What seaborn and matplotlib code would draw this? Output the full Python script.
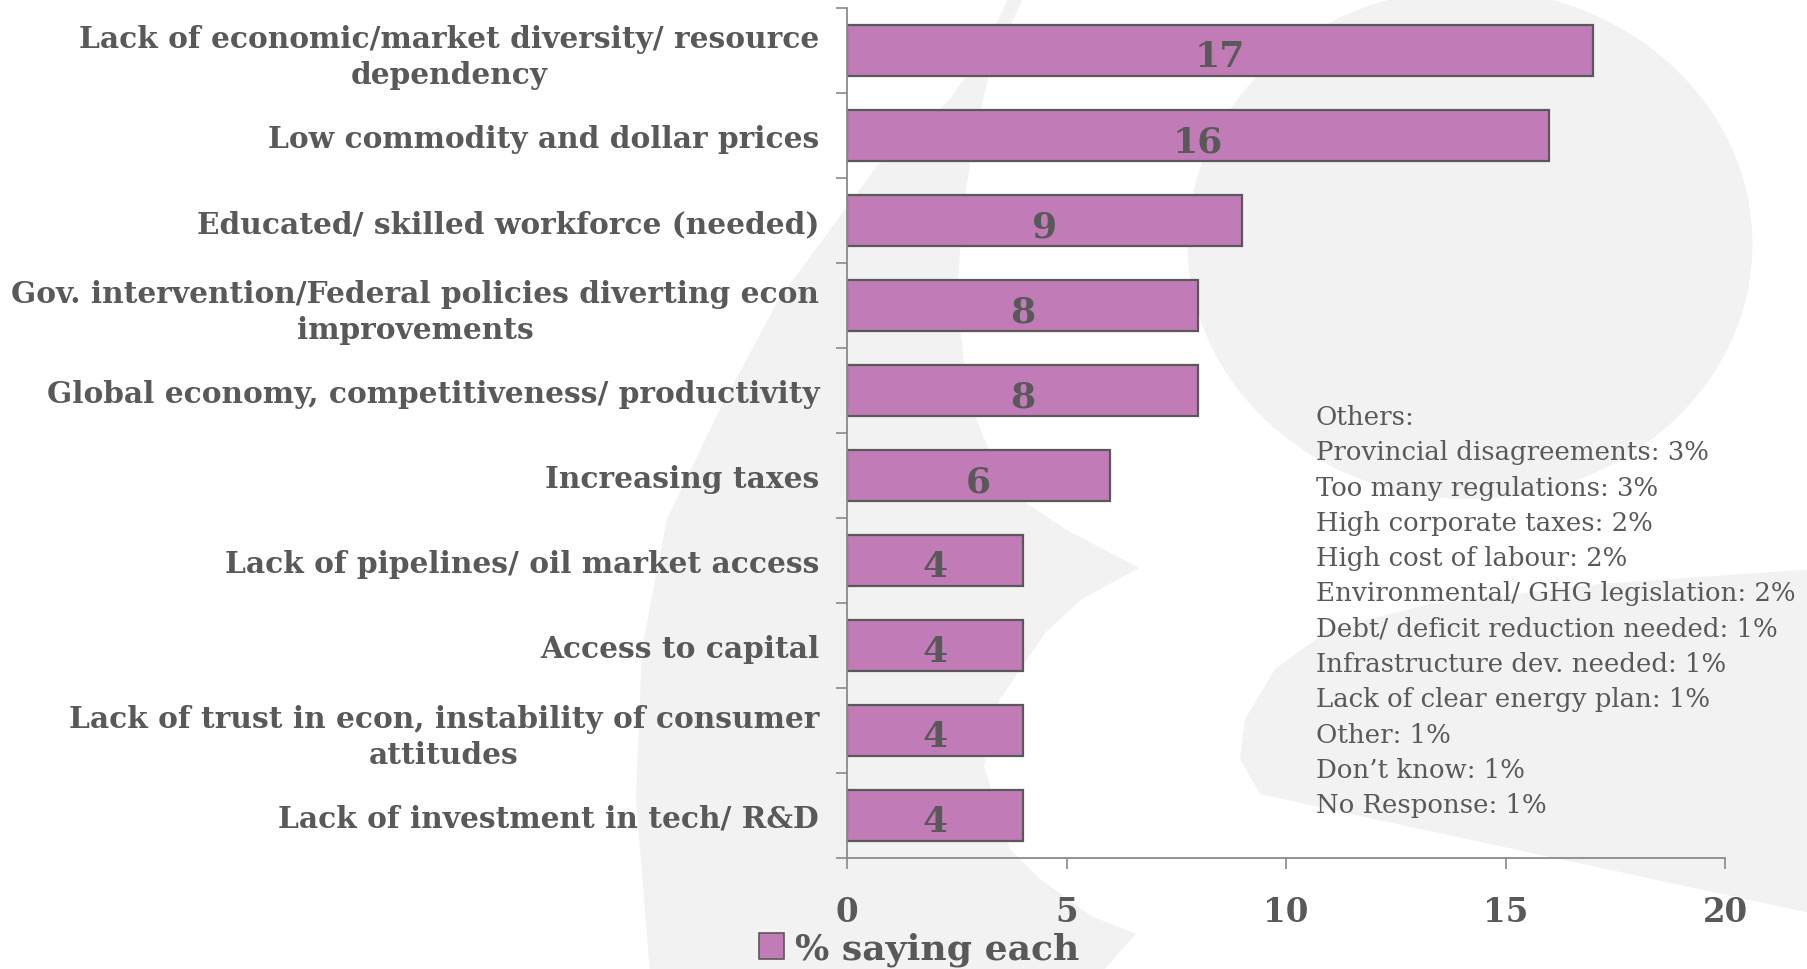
import numpy as np
import pandas as pd
import seaborn as sns
import matplotlib.pyplot as plt
from matplotlib.patches import Polygon, Ellipse, Patch

# ---- data -------------------------------------------------------------
categories = [
    "Lack of economic/market diversity/ resource\ndependency",
    "Low commodity and dollar prices",
    "Educated/ skilled workforce (needed)",
    "Gov. intervention/Federal policies diverting econ\nimprovements",
    "Global economy, competitiveness/ productivity",
    "Increasing taxes",
    "Lack of pipelines/ oil market access",
    "Access to capital",
    "Lack of trust in econ, instability of consumer\nattitudes",
    "Lack of investment in tech/ R&D",
]
values = [17, 16, 9, 8, 8, 6, 4, 4, 4, 4]

others_lines = [
    "Others:",
    "Provincial disagreements: 3%",
    "Too many regulations: 3%",
    "High corporate taxes: 2%",
    "High cost of labour: 2%",
    "Environmental/ GHG legislation: 2%",
    "Debt/ deficit reduction needed: 1%",
    "Infrastructure dev. needed: 1%",
    "Lack of clear energy plan: 1%",
    "Other: 1%",
    "Don\u2019t know: 1%",
    "No Response: 1%",
]
x_ticks = [0, 5, 10, 15, 20]
series_name = "% saying each"

# ---- style ------------------------------------------------------------
sns.set_theme(style="white")
plt.rcParams["font.family"] = ["DejaVu Serif"]
TEXT = "#595959"
BAR = "#C17CB7"
EDGE = "#595959"
SPINE = "#8a8a8a"
WATERMARK = "#f2f2f2"

W, H = 1808, 970
fig = plt.figure(figsize=(W / 100, H / 100), dpi=100)
fig.patch.set_facecolor("white")

# ---- faint logo watermark behind the chart (pixel coordinates) ---------
bg = fig.add_axes([0, 0, 1, 1], zorder=-5)
bg.set_xlim(0, W)
bg.set_ylim(H, 0)
bg.axis("off")
crescent = [
    (1010, -5), (985, 50), (950, 100), (877, 167), (779, 300), (720, 410),
    (667, 520), (642, 650), (636, 800), (650, 975), (1100, 975),
    (1136, 935), (1091, 917), (1040, 880), (1010, 850), (984, 767),
    (1000, 700), (1046, 633), (1082, 600), (1139, 569), (1065, 530),
    (1005, 490), (968, 400), (957, 300), (962, 220), (972, 150),
    (990, 70), (1025, -5),
]
bg.add_patch(Polygon(crescent, closed=True, fc=WATERMARK, ec="none"))
bg.add_patch(Ellipse((1470, 245), 565, 510, fc=WATERMARK, ec="none"))
swoosh = [
    (1815, 570), (1600, 585), (1430, 605), (1330, 630), (1275, 670),
    (1245, 720), (1240, 760), (1260, 795), (1374, 820), (1815, 915),
]
bg.add_patch(Polygon(swoosh, closed=True, fc=WATERMARK, ec="none"))

# ---- bar chart --------------------------------------------------------
ax = fig.add_axes([847 / W, 1 - 859 / H, (1725 - 847) / W, (859 - 9) / H])
ax.set_facecolor("none")

df = pd.DataFrame({"category": categories, "value": values})
sns.barplot(data=df, y="category", x="value", orient="h", color=BAR,
            saturation=1, width=0.6, edgecolor=EDGE, linewidth=1.6, ax=ax)

for i, v in enumerate(values):
    ax.text(v / 2, i + 0.07, f"{v}", ha="center", va="center",
            fontsize=26, fontweight="bold", color=TEXT)

ax.set_xlim(0, 20)
ax.set_ylim(9.5, -0.5)
ax.set_xticks(x_ticks)
ax.set_xticklabels([str(t) for t in x_ticks])
ax.set_xlabel("")
ax.set_ylabel("")

ax.set_yticks(np.arange(-0.5, 10, 1), minor=True)
ax.tick_params(axis="y", which="major", length=0, pad=20,
               labelsize=21.3, labelcolor=TEXT)
ax.tick_params(axis="y", which="minor", length=8, width=1.2, color=SPINE,
               direction="out", left=True)
ax.tick_params(axis="x", which="major", length=8, width=1.2, color=SPINE,
               direction="out", bottom=True, pad=19, labelsize=23.5,
               labelcolor=TEXT)
for lbl in ax.get_yticklabels():
    lbl.set_fontweight("bold")
    lbl.set_multialignment("center")
    lbl.set_linespacing(1.27)
for lbl in ax.get_xticklabels():
    lbl.set_fontweight("bold")

for side in ("top", "right"):
    ax.spines[side].set_visible(False)
for side in ("left", "bottom"):
    ax.spines[side].set_color(SPINE)
    ax.spines[side].set_linewidth(1.3)

# ---- list of smaller mentions -----------------------------------------
fig.text(1316 / W, 1 - 405 / H, "\n".join(others_lines), ha="left", va="top",
         fontsize=18.7, color=TEXT, linespacing=1.515)

# ---- legend -----------------------------------------------------------
handle = Patch(facecolor=BAR, edgecolor=EDGE, linewidth=1.2, label=series_name)
leg = fig.legend(handles=[handle], loc="center",
                 bbox_to_anchor=(919 / W, 1 - 950 / H), frameon=False,
                 handlelength=0.7, handleheight=0.7, handletextpad=0.3,
                 prop={"size": 26, "weight": "bold"})
for t in leg.get_texts():
    t.set_color(TEXT)

fig.savefig("out.png", dpi=100, facecolor="white")
